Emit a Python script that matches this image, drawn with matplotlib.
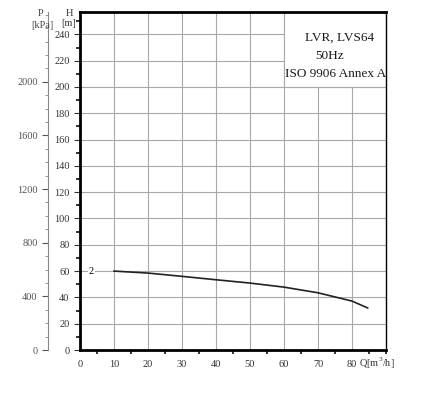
import matplotlib
matplotlib.use("Agg")
import matplotlib.pyplot as plt
from matplotlib.ticker import MultipleLocator
from matplotlib.patches import Rectangle

plt.rcParams['font.family'] = ['Liberation Serif', 'DejaVu Serif']
plt.rcParams['mathtext.fontset'] = 'custom'
plt.rcParams['mathtext.rm'] = 'Liberation Serif'

# data
q_vals = [10, 20, 30, 40, 50, 60, 70, 80, 84.6]
h_vals = [60.0, 58.5, 56.0, 53.4, 50.9, 47.8, 43.5, 37.2, 32.0]
x_ticks = [0, 10, 20, 30, 40, 50, 60, 70, 80]
h_ticks = [0, 20, 40, 60, 80, 100, 120, 140, 160, 180, 200, 220, 240]
p_ticks = [0, 400, 800, 1200, 1600, 2000]
title_lines = ["LVR, LVS64", "50Hz", "ISO 9906 Annex A"]
curve_label = "2"

W, H = 439, 398
fig = plt.figure(figsize=(W / 100, H / 100), dpi=100)
ax = fig.add_axes([80 / W, 1 - 350 / H, (386 - 80) / W, (350 - 12) / H])

GRID = '#a8a8a8'
TS = 7.5
ax.set_xlim(0, 90)
ax.set_ylim(0, 257)
ax.set_xticks(x_ticks)
ax.set_yticks(h_ticks)
ax.xaxis.set_minor_locator(MultipleLocator(5))
ax.yaxis.set_minor_locator(MultipleLocator(10))
ax.grid(True, which='major', color=GRID, linewidth=0.8)
ax.set_axisbelow(True)
ax.tick_params(axis='both', which='major', labelsize=TS, colors='#333333', length=4, width=0.8)
ax.tick_params(axis='x', which='major', length=0, pad=7)
ax.tick_params(axis='both', which='minor', length=3, width=1.2, color='#111111')
for s in ['left', 'bottom', 'top']:
    ax.spines[s].set_linewidth(2)
ax.spines['right'].set_linewidth(1)

# white panel behind the title text
ax.add_patch(Rectangle((60, 200), 30, 57, facecolor='white', edgecolor=GRID,
                       linewidth=0.8, zorder=1.5))

ax.plot(q_vals, h_vals, color='#222222', linewidth=1.2, zorder=3)
ax.text(3.3, 60, curve_label, fontsize=TS, ha='center', va='center', zorder=3,
        bbox=dict(facecolor='white', edgecolor='none', pad=0.5))

title_x = [76.3, 73.5, 75.3]
title_y = [237.6, 223.6, 209.9]
for t, xx, yy in zip(title_lines, title_x, title_y):
    ax.text(xx, yy, t, fontsize=9.5, ha='center', va='center', color='#1a1a1a', zorder=4)

ax.text(87.2, -4.5, "Q[m$^3$/h]", fontsize=TS, ha='center', va='top', color='#333333',
        clip_on=False)

# pressure axis
ax2 = ax.twinx()
ax2.set_ylim(0, 257 * 9.80665)
ax2.yaxis.set_ticks_position('left')
ax2.yaxis.set_label_position('left')
ax2.spines['left'].set_position(('outward', 23))
for s in ['right', 'top', 'bottom']:
    ax2.spines[s].set_visible(False)
ax2.spines['left'].set_color('#888888')
ax2.spines['left'].set_linewidth(0.8)
ax2.set_yticks(p_ticks)
ax2.yaxis.set_minor_locator(MultipleLocator(100))
ax2.tick_params(axis='y', which='major', labelsize=TS, colors='#555555', length=4, width=0.8)
ax2.tick_params(axis='y', which='minor', length=2.5, width=0.6, color='#888888')

fig.text(41 / W, 1 - 13 / H, "P", fontsize=TS, ha='center', va='center', color='#444444')
fig.text(42 / W, 1 - 25 / H, "[kPa]", fontsize=TS, ha='center', va='center', color='#444444')
fig.text(69 / W, 1 - 13 / H, "H", fontsize=TS, ha='center', va='center', color='#333333')
fig.text(69 / W, 1 - 24 / H, "[m]", fontsize=TS, ha='center', va='center', color='#333333')

fig.savefig("out.png", dpi=100)
